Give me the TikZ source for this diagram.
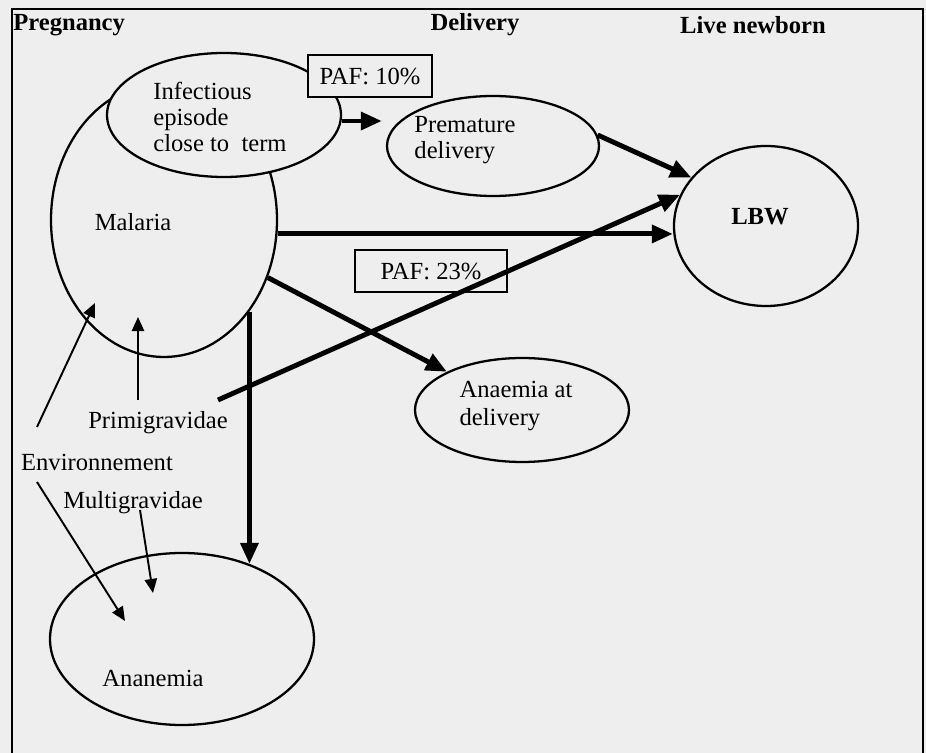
\documentclass[tikz,border=0pt]{standalone}
\usepackage{fontspec}
\setmainfont{Liberation Serif}
\usetikzlibrary{shapes,arrows.meta}
\definecolor{paper}{HTML}{EEEEEE}

\begin{document}
\begin{tikzpicture}[font=\fontsize{14}{15.5}\selectfont,
  bubble/.style={shape=ellipse,draw=black,line width=1.3pt,inner sep=0pt},
  pafbox/.style={shape=rectangle,draw=black,line width=1.1pt,fill=paper,inner sep=0pt},
  lbl/.style={inner sep=0pt,align=left},
  head/.style={inner sep=0pt,font=\fontsize{14}{15.5}\selectfont\bfseries},
  bigarrow/.style={line width=2.8pt,-{Triangle[length=12pt,width=10pt]}},
  thinarrow/.style={line width=1.1pt,-{Triangle[length=8pt,width=7pt]}}]
\useasboundingbox[fill=paper] (0,0) rectangle (18.52,15.06);
\draw[line width=1pt] (0.24,0) -- (0.24,14.88) -- (18.46,14.88) -- (18.46,0);

\node[head,anchor=west] (h0) at (0.26,14.56) {Pregnancy};
\node[head] (h1) at (9.5,14.56) {Delivery};
\node[head] (h2) at (15.06,14.56) {Live newborn};

\node[bubble,minimum width=4.52cm,minimum height=5.48cm] (0) at (3.28,10.66) {};
\node[bubble,fill=paper,minimum width=4.68cm,minimum height=2.48cm] (1) at (4.48,12.76) {};
\node[bubble,minimum width=4.24cm,minimum height=2.0cm] (2) at (9.86,12.14) {};
\node[bubble,minimum width=3.68cm,minimum height=3.2cm] (3) at (15.32,10.54) {};
\node[bubble,minimum width=4.28cm,minimum height=2.08cm] (4) at (10.44,6.86) {};
\node[bubble,minimum width=5.28cm,minimum height=3.44cm] (5) at (3.64,2.28) {};

\node[pafbox,minimum width=2.48cm,minimum height=0.84cm] (6) at (7.4,13.54) {PAF: 10\%};
\node[pafbox,minimum width=3.04cm,minimum height=0.84cm] (7) at (8.62,9.64) {PAF: 23\%};

\node[lbl] (8) at (2.66,10.62) {Malaria};
\node[lbl,font=\fontsize{14}{15}\selectfont] (9) at (4.4,12.72) {Infectious\\episode\\close to~ term};
\node[lbl,font=\fontsize{14}{14.5}\selectfont] (10) at (9.3,12.26) {Premature\\delivery};
\node[lbl,font=\fontsize{14}{15.5}\selectfont\bfseries] (11) at (15.2,10.72) {LBW};
\node[lbl,font=\fontsize{14}{16}\selectfont] (12) at (10.32,6.94) {Anaemia at\\delivery};
\node[lbl] (13) at (3.16,6.6) {Primigravidae};
\node[lbl] (14) at (1.94,5.82) {Environnement};
\node[lbl] (15) at (2.66,5.0) {Multigravidae};
\node[lbl] (16) at (3.06,1.5) {Ananemia};

\draw[bigarrow,shorten >=0.08cm] ([yshift=-0.12cm]1.east) -- ([yshift=-0.12cm]1.east -| 2.west);
\draw[bigarrow] (2.6) -- (3.147);
\draw[bigarrow] (0.-7) -- (0.-7 -| 3.west);
\draw[bigarrow] (0.-29) -- (4.153);
\draw[bigarrow] ([shift={(1.2,0.46)}]13.center) -- (3.160);
\draw[bigarrow] (0.-47.5) -- (0.-47.5 |- 5.48.5);

\draw[thinarrow] ([shift={(-0.4,0.46)}]13.center) -- ++(0,1.66);
\draw[thinarrow] ([shift={(-1.2,0.7)}]14.center) -- ([shift={(-1.38,-1.66)}]0.center);
\draw[thinarrow] ([shift={(-1.2,-0.4)}]14.center) -- ([shift={(-1.14,0.36)}]5.center);
\draw[thinarrow] ([shift={(0.14,-0.14)}]15.center) -- ([shift={(-0.58,0.92)}]5.center);
\end{tikzpicture}
\end{document}
